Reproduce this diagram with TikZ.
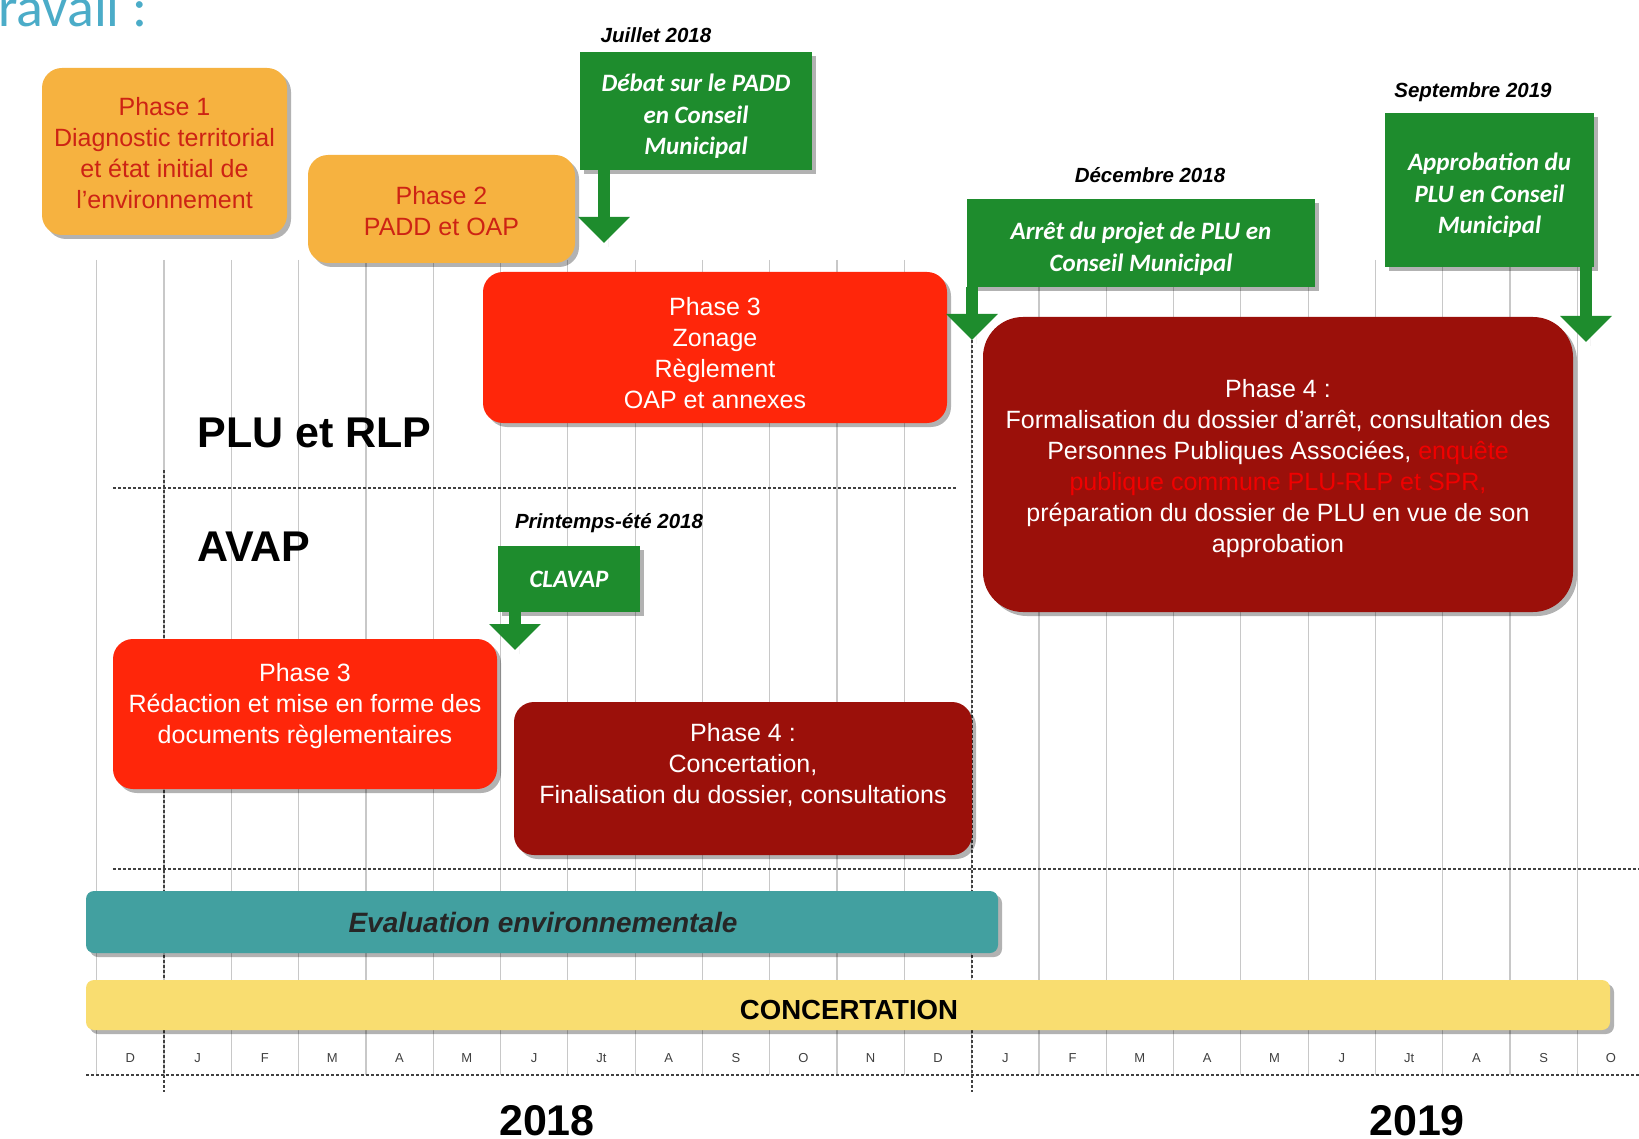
\documentclass[tikz,border=0pt]{standalone}
\usepackage{fontspec}
\setmainfont{Liberation Sans}
\newfontfamily\calfont{Carlito}
\usetikzlibrary{arrows.meta,shadows}
\definecolor{orangebox}{RGB}{246,178,64}
\definecolor{orangetext}{RGB}{205,35,20}
\definecolor{greenbox}{RGB}{30,140,45}
\definecolor{redbox}{RGB}{255,38,10}
\definecolor{darkred}{RGB}{155,16,10}
\definecolor{brightred}{RGB}{240,0,0}
\definecolor{tealbar}{RGB}{66,160,160}
\definecolor{yellowbar}{RGB}{249,221,112}
\definecolor{titleblue}{RGB}{75,172,200}
\definecolor{gridgray}{RGB}{200,200,200}
\begin{document}
\begin{tikzpicture}[x=0.5pt,y=-0.5pt,
  shadowed/.style={drop shadow={shadow xshift=2pt,shadow yshift=-2pt,opacity=0.3,fill=black}},
  phasebox/.style={shadowed,rounded corners=10pt,inner sep=0pt},
  ptext/.style={align=center,inner sep=0pt,font=\fontsize{12.5}{15.5}\selectfont},
  greenbox/.style={shadowed,fill=greenbox,inner sep=0pt},
  gtext/.style={text=white,align=center,inner sep=0pt,
    font=\calfont\bfseries\itshape\fontsize{12.5}{15.6}\selectfont},
  datelabel/.style={font=\bfseries\itshape\fontsize{10.25}{12}\selectfont,inner sep=0pt},
  garrow/.style={draw=greenbox,line width=6pt,-{Triangle[width=25pt,length=13pt]},greenbox},
  gridline/.style={draw=gridgray,line width=0.6pt},
  dashline/.style={draw=black!75,dashed,dash pattern=on 1.5pt off 1pt,line width=0.6pt},
  monthlabel/.style={font=\fontsize{6.5}{7}\selectfont,text=black!75,inner sep=0pt},
  bigtitle/.style={font=\bfseries\fontsize{21.5}{24}\selectfont,inner sep=0pt},
  bartext/.style={inner sep=0pt}]
\useasboundingbox[fill=white] (0,0) rectangle (1639,1139);
% title fragment
\node[anchor=base west,inner sep=0pt,text=titleblue,font=\calfont\fontsize{28}{30}\selectfont] (title) at (-2,27) {ravail :};
% grid
\foreach \k in {-1,...,22}
  \draw[gridline] ({164+67.3*\k},260) -- ({164+67.3*\k},1075);
% month labels
\foreach \m [count=\i from 0] in {D,J,F,M,A,M,J,Jt,A,S,O,N,D,J,F,M,A,M,J,Jt,A,S,O}
  \node[monthlabel] (m\i) at ({164+67.3*(\i-0.5)},1058) {\m};
% dashed lines
\coordinate (h1a) at (113,488); \coordinate (h1b) at (956,488);
\coordinate (h2a) at (113,869); \coordinate (h2b) at (1639,869);
\coordinate (h3a) at (86,1075); \coordinate (h3b) at (1639,1075);
\coordinate (v1a) at (164,470); \coordinate (v1b) at (164,1092);
\coordinate (v2a) at (972,330); \coordinate (v2b) at (972,1092);
\draw[dashline] (h1a) -- (h1b);
\draw[dashline] (h2a) -- (h2b);
\draw[dashline] (h3a) -- (h3b);
\draw[dashline] (v1a) -- (v1b);
\draw[dashline] (v2a) -- (v2b);
% section titles
\node[bigtitle,anchor=west] (plu) at (197,433) {PLU et RLP};
\node[bigtitle,anchor=west] (avap) at (197,547) {AVAP};
% PLU boxes
\node[phasebox,fill=orangebox,minimum width=122.5pt,minimum height=83.5pt] (p1) at (164.5,151.5) {};
\node[ptext,text=orangetext,yshift=-1pt] (p1t) at (p1.center)
  {Phase 1\\Diagnostic territorial\\et état initial de\\l'environnement};
\node[phasebox,fill=orangebox,minimum width=133.5pt,minimum height=54pt] (p2) at (441.5,209) {};
\node[ptext,text=orangetext,yshift=-0.8pt] (p2t) at (p2.center) {Phase 2\\PADD et OAP};
\node[phasebox,fill=redbox,minimum width=232pt,minimum height=75.5pt] (p3) at (715,347.5) {};
\node[ptext,text=white,yshift=-2.6pt] (p3t) at (p3.center) {Phase 3\\Zonage\\Règlement\\OAP et annexes};
\node[phasebox,fill=darkred,rounded corners=20pt,minimum width=295pt,minimum height=147.5pt] (p4) at (1278,464.5) {};
\node[ptext,text=white,yshift=-2.1pt] (p4t) at (p4.center)
  {Phase 4 :\\Formalisation du dossier d’arrêt, consultation des\\Personnes Publiques Associées, \textcolor{brightred}{enquête}\\\textcolor{brightred}{publique commune PLU-RLP et SPR,}\\préparation du dossier de PLU en vue de son\\approbation};
% green milestones
\node[greenbox,minimum width=116pt,minimum height=59pt] (deb) at (696,111) {};
\node[gtext,yshift=-2.6pt] (debt) at (deb.center) {Débat sur le PADD\\en Conseil\\Municipal};
\node[datelabel] (debdate) at (656,35) {Juillet 2018};
\coordinate (debtip) at (604,243);
\draw[garrow] (deb.south -| debtip) -- (debtip);
\node[greenbox,minimum width=174pt,minimum height=44pt] (arr) at (1141,243) {};
\node[gtext,yshift=-2.8pt] (arrt) at (arr.center) {Arrêt du projet de PLU en\\Conseil Municipal};
\node[datelabel] (arrdate) at (1150,175) {Décembre 2018};
\coordinate (arrtip) at (972,340);
\draw[garrow] (arr.south -| arrtip) -- (arrtip);
\node[greenbox,minimum width=104.5pt,minimum height=77pt] (app) at (1489.5,190) {};
\node[gtext,yshift=-2.6pt] (appt) at (app.center) {Approbation du\\PLU en Conseil\\Municipal};
\node[datelabel] (appdate) at (1473,92) {Septembre 2019};
\coordinate (apptip) at (1586,342);
\draw[garrow] (app.south -| apptip) -- (apptip);
% AVAP boxes
\node[greenbox,minimum width=71pt,minimum height=33pt] (clav) at (569,579) {};
\node[gtext] (clavt) at (clav.center) {CLAVAP};
\node[datelabel] (clavdate) at (609,523) {Printemps-été 2018};
\coordinate (clavtip) at (515,650);
\draw[garrow] (clav.south -| clavtip) -- (clavtip);
\node[phasebox,fill=redbox,minimum width=192pt,minimum height=75pt] (a3) at (305,714) {};
\node[ptext,text=white] (a3t) at (305,706)
  {Phase 3\\Rédaction et mise en forme des\\documents règlementaires};
\node[phasebox,fill=darkred,minimum width=229pt,minimum height=76.5pt] (a4) at (743,778.5) {};
\node[ptext,text=white] (a4t) at (743,765.5)
  {Phase 4 :\\Concertation,\\Finalisation du dossier, consultations};
% bars
\node[shadowed,fill=tealbar,rounded corners=4pt,minimum width=456pt,minimum height=31pt,inner sep=0pt] (eval) at (542,922) {};
\node[bartext,font=\bfseries\itshape\fontsize{14}{16}\selectfont,text=black!85] (evalt) at (543,922) {Evaluation environnementale};
\node[shadowed,fill=yellowbar,rounded corners=4pt,minimum width=762pt,minimum height=25pt,inner sep=0pt] (conc) at (848,1005) {};
\node[bartext,font=\bfseries\fontsize{13.8}{15}\selectfont] (conct) at (849,1010) {CONCERTATION};
% years
\node[bigtitle] (y18) at (547,1121) {2018};
\node[bigtitle] (y19) at (1417,1121) {2019};
\end{tikzpicture}
\end{document}
